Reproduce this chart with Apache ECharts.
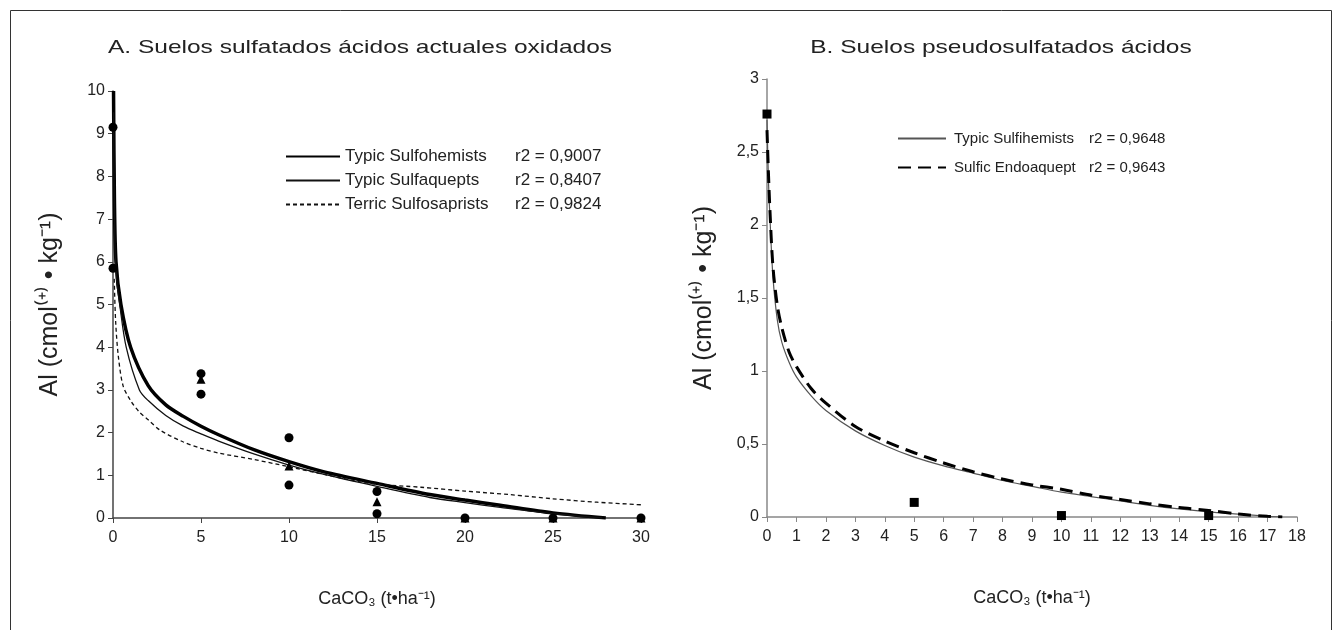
<!DOCTYPE html>
<html>
<head>
<meta charset="utf-8">
<script src="https://cdn.jsdelivr.net/npm/echarts@6/dist/echarts.min.js"></script>
<style>
  html, body { margin: 0; padding: 0; background: #fff; }
  #main { width: 1338px; height: 630px; }
</style>
</head>
<body>
<div id="main"></div>
<script>
// Panel A (x, Al)
const sulfohemists = [[0.03, 10], [0.08, 7.5], [0.17, 6], [0.45, 5], [1, 4], [2, 3.1], [3, 2.65], [4, 2.38], [5, 2.15], [6, 1.95], [8, 1.6], [10, 1.32], [12, 1.08], [15, 0.81], [18, 0.55], [20, 0.42], [22, 0.3], [25, 0.12], [28, 0]];
const sulfaquepts = [[0.03, 9.5], [0.1, 6.6], [0.2, 5.6], [0.38, 5], [0.75, 4], [1.5, 3], [2, 2.75], [3, 2.4], [4, 2.15], [5, 1.97], [6, 1.8], [8, 1.5], [10, 1.24], [12, 1.02], [15, 0.74], [18, 0.48], [20, 0.36], [22, 0.25], [25, 0.1], [27.8, 0]];
const sulfosaprists = [[0.07, 5.6], [0.15, 4.6], [0.3, 3.8], [0.57, 3.1], [1, 2.75], [1.5, 2.48], [2, 2.3], [2.7, 2.05], [4, 1.78], [5, 1.63], [6, 1.52], [8, 1.37], [10, 1.2], [12, 1.02], [14, 0.85], [15, 0.79], [17.5, 0.72], [20, 0.63], [22.5, 0.55], [25, 0.45], [27.5, 0.37], [30, 0.31]];
const circlesA = [[0, 9.15], [0, 5.85], [5, 3.38], [5, 2.9], [10, 1.88], [10, 0.77], [15, 0.62], [15, 0.1], [20, 0], [25, 0], [30, 0]];
const trianglesA = [[5, 3.25], [10, 1.22], [15, 0.38], [20, 0], [25, 0], [30, 0]];
const r2A = { 'Typic Sulfohemists': 'r2 = 0,9007', 'Typic Sulfaquepts': 'r2 = 0,8407', 'Terric Sulfosaprists': 'r2 = 0,9824' };

// Panel B
const sulfihemists = [[0, 2.72], [0.05, 2.3], [0.1, 2.05], [0.2, 1.65], [0.35, 1.35], [0.5, 1.2], [0.75, 1.06], [1, 0.96], [1.5, 0.83], [2, 0.73], [3, 0.59], [4, 0.49], [5, 0.41], [6, 0.35], [7, 0.3], [8, 0.25], [9, 0.21], [10, 0.17], [11, 0.14], [12, 0.11], [13, 0.08], [14, 0.055], [15, 0.035], [16, 0.02], [17, 0.005], [17.5, 0]];
const endoaquept = [[0, 2.65], [0.05, 2.35], [0.1, 2.1], [0.2, 1.72], [0.35, 1.45], [0.5, 1.3], [0.75, 1.13], [1, 1.03], [1.5, 0.88], [2, 0.78], [3, 0.62], [4, 0.52], [5, 0.44], [6, 0.37], [7, 0.31], [8, 0.26], [9, 0.22], [10, 0.19], [11, 0.15], [12, 0.12], [13, 0.09], [14, 0.065], [15, 0.045], [16, 0.02], [17, 0.005], [17.5, 0]];
const squaresB = [[0, 2.76], [5, 0.1], [10, 0.01], [15, 0.01]];
const r2B = { 'Typic Sulfihemists': 'r2 = 0,9648', 'Sulfic Endoaquept': 'r2 = 0,9643' };

const FONT = "'Liberation Sans', Arial, sans-serif";
const TXT = '#222';
const yName = 'Al (cmol⁽⁺⁾ • kg⁻¹)';
const xName = 'CaCO₃ (t•ha⁻¹)';
const comma = v => String(v).replace('.', ',');

const chart = echarts.init(document.getElementById('main'));

function axisX(idx, max, interval, color) {
  return {
    type: 'value', gridIndex: idx, min: 0, max: max, interval: interval,
    name: xName, nameLocation: 'middle', nameGap: 72,
    nameTextStyle: { fontFamily: FONT, fontSize: 18, color: TXT },
    axisLine: { lineStyle: { color: color, width: 1.5 } },
    axisTick: { show: true, length: 5, lineStyle: { color: color } },
    axisLabel: { fontFamily: FONT, fontSize: 16, color: TXT, margin: 12, interval: 0 },
    splitLine: { show: false }
  };
}
function axisY(idx, max, interval, color, fmt) {
  return {
    type: 'value', gridIndex: idx, min: 0, max: max, interval: interval,
    name: yName, nameLocation: 'middle', nameGap: 50,
    nameTextStyle: { fontFamily: FONT, fontSize: 25, fontWeight: 'normal', color: TXT },
    axisLine: { show: true, lineStyle: { color: color, width: 1.5 } },
    axisTick: { show: true, length: 5, lineStyle: { color: color } },
    axisLabel: { fontFamily: FONT, fontSize: 16, color: TXT, margin: 8, formatter: fmt },
    splitLine: { show: false }
  };
}
function curve(name, data, xi, width, type, color) {
  return {
    name: name, type: 'line', xAxisIndex: xi, yAxisIndex: xi, data: data,
    smooth: 0.3, symbol: 'none', clip: true,
    lineStyle: { color: color, width: width, type: type },
    itemStyle: { color: color }, z: 3
  };
}
function pts(data, xi, symbol) {
  return {
    type: 'scatter', xAxisIndex: xi, yAxisIndex: xi, data: data,
    symbol: symbol, symbolSize: 9, itemStyle: { color: '#000', opacity: 1 }, z: 4
  };
}
function legendRich(size, w, pad) {
  return {
    n: { fontFamily: FONT, fontSize: size, color: TXT, width: w, padding: [0, 0, 0, pad] },
    r: { fontFamily: FONT, fontSize: size, color: TXT }
  };
}
function titleText(text, x) {
  return {
    type: 'text', x: x, y: 48, scaleX: 1.29, silent: true,
    style: { text: text, fontFamily: FONT, fontSize: 19, fill: TXT, align: 'center', verticalAlign: 'middle' }
  };
}

chart.setOption({
  animation: false,
  backgroundColor: '#fff',
  legend: [
    { data: Object.keys(r2A), orient: 'vertical', left: 285, top: 148, padding: 0,
      itemWidth: 54, itemHeight: 12, itemGap: 7, itemStyle: { opacity: 0 },
      formatter: n => '{n|' + n + '}{r|' + r2A[n] + '}', textStyle: { rich: legendRich(17, 170, 0) } },
    { data: Object.keys(r2B), orient: 'vertical', left: 897, top: 131, padding: 0,
      itemWidth: 48, itemHeight: 12, itemGap: 14, itemStyle: { opacity: 0 },
      formatter: n => '{n|' + n + '}{r|' + r2B[n] + '}', textStyle: { rich: legendRich(15, 135, 3) } }
  ],
  grid: [
    { left: 113, top: 91, width: 528, height: 427 },
    { left: 767, top: 79, width: 530, height: 438 }
  ],
  xAxis: [axisX(0, 30, 5, '#444'), axisX(1, 18, 1, '#888')],
  yAxis: [axisY(0, 10, 1, '#444'), axisY(1, 3, 0.5, '#888', comma)],
  series: [
    curve('Typic Sulfohemists', sulfohemists, 0, 3.5, 'solid', '#000'),
    curve('Typic Sulfaquepts', sulfaquepts, 0, 1.3, 'solid', '#111'),
    curve('Terric Sulfosaprists', sulfosaprists, 0, 1.3, [4, 3], '#111'),
    pts(circlesA, 0, 'circle'),
    pts(trianglesA, 0, 'triangle'),
    curve('Typic Sulfihemists', sulfihemists, 1, 1.2, 'solid', '#555'),
    curve('Sulfic Endoaquept', endoaquept, 1, 3, [13, 7], '#000'),
    pts(squaresB, 1, 'rect')
  ],
  graphic: [
    { type: 'rect', shape: { x: 10.5, y: 10.5, width: 1321, height: 650 },
      style: { fill: 'none', stroke: '#333', lineWidth: 1 }, silent: true },
    titleText('A. Suelos sulfatados ácidos actuales oxidados', 360),
    titleText('B. Suelos pseudosulfatados ácidos', 1001)
  ]
});
</script>
</body>
</html>
